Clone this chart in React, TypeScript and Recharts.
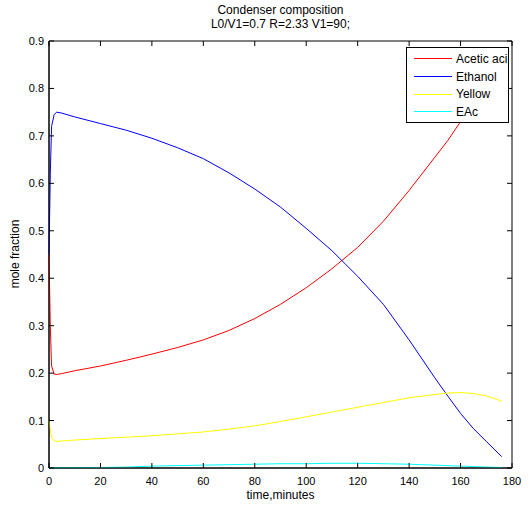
import React from 'react';
import { LineChart, Line, XAxis, YAxis, Legend, ReferenceArea } from 'recharts';

// time samples (minutes) and mole fractions
const TIME = [0, 0.5, 1, 2, 3, 5, 10, 20, 30, 40, 50, 60, 70, 80, 90, 100, 110, 120, 130, 140, 150, 155, 160, 165, 170, 176];
const ACETIC = [0.45, 0.3, 0.215, 0.198, 0.197, 0.199, 0.205, 0.215, 0.227, 0.24, 0.254, 0.27, 0.29, 0.315, 0.345, 0.38, 0.42, 0.465, 0.52, 0.585, 0.655, 0.69, 0.73, 0.77, 0.81, 0.86];
const ETHANOL = [0.45, 0.62, 0.72, 0.745, 0.75, 0.748, 0.74, 0.726, 0.712, 0.695, 0.675, 0.652, 0.622, 0.588, 0.55, 0.505, 0.458, 0.404, 0.345, 0.27, 0.19, 0.152, 0.115, 0.083, 0.056, 0.024];
const YELLOW = [0.1, 0.08, 0.065, 0.057, 0.056, 0.057, 0.059, 0.062, 0.065, 0.068, 0.072, 0.076, 0.082, 0.089, 0.098, 0.108, 0.118, 0.128, 0.138, 0.148, 0.155, 0.158, 0.159, 0.157, 0.152, 0.141];
const EAC = [0.0005, 0.0005, 0.0005, 0.0005, 0.0005, 0.0006, 0.0008, 0.001, 0.002, 0.004, 0.005, 0.006, 0.007, 0.008, 0.009, 0.009, 0.01, 0.01, 0.009, 0.008, 0.006, 0.005, 0.004, 0.003, 0.002, 0.001];

const SERIES_NAMES = ['Acetic aci', 'Ethanol', 'Yellow', 'EAc'];
const X_TICKS = [0, 20, 40, 60, 80, 100, 120, 140, 160, 180];
const Y_TICKS = [0, 0.1, 0.2, 0.3, 0.4, 0.5, 0.6, 0.7, 0.8, 0.9];

const data = TIME.map((t, i) => ({
    t,
    acetic: ACETIC[i],
    ethanol: ETHANOL[i],
    yellow: YELLOW[i],
    eac: EAC[i],
}));

const W = 532;
const H = 507;
const MARGIN = { top: 41, right: 20, bottom: 38, left: 48 };
const PLOT_TOP = MARGIN.top;
const PLOT_RIGHT = W - MARGIN.right;
const FONT = '"Liberation Sans", Arial, sans-serif';

const XTick = (props: any) => {
    const { x, y, payload } = props;
    return (
        <g>
            <line x1={x} y1={y} x2={x} y2={y - 5} stroke="#000" />
            <line x1={x} y1={PLOT_TOP} x2={x} y2={PLOT_TOP + 5} stroke="#000" />
            <text x={x} y={y + 17} textAnchor="middle" fontSize={11} fontFamily={FONT} fill="#000">
                {payload.value}
            </text>
        </g>
    );
};

const YTick = (props: any) => {
    const { x, y, payload } = props;
    return (
        <g>
            <line x1={x} y1={y} x2={x + 5} y2={y} stroke="#000" />
            <line x1={PLOT_RIGHT} y1={y} x2={PLOT_RIGHT - 5} y2={y} stroke="#000" />
            <text x={x - 5} y={y + 4} textAnchor="end" fontSize={11} fontFamily={FONT} fill="#000">
                {payload.value}
            </text>
        </g>
    );
};

const LegendBox = (props: any) => {
    const items = [...(props.payload || [])].sort(
        (a: any, b: any) => SERIES_NAMES.indexOf(a.value) - SERIES_NAMES.indexOf(b.value)
    );
    return (
        <div style={{ width: 101, height: 72, border: '1px solid #000', background: '#fff', fontFamily: FONT, fontSize: 12, paddingTop: 2 }}>
            {items.map((entry: any) => (
                <div key={entry.value} style={{ display: 'flex', alignItems: 'center', height: 17.7 }}>
                    <div style={{ width: 38, height: 0, borderTop: `1px solid ${entry.color}`, marginLeft: 7, marginRight: 4 }} />
                    <span>{entry.value}</span>
                </div>
            ))}
        </div>
    );
};

const App: React.FC = () => {
    return (
        <div style={{ position: 'absolute', left: 0, top: 0, width: W, height: H, background: '#fff', fontFamily: FONT }}>
            <div style={{ position: 'absolute', left: 49, width: PLOT_RIGHT - 49, top: 3, textAlign: 'center', fontSize: 12, lineHeight: '14px', color: '#000' }}>
                Condenser composition<br />L0/V1=0.7 R=2.33 V1=90;
            </div>
            <div style={{ position: 'absolute', left: 49, width: PLOT_RIGHT - 49, top: 488, textAlign: 'center', fontSize: 12, color: '#000' }}>
                time,minutes
            </div>
            <div style={{ position: 'absolute', left: 15, top: 254, transform: 'translate(-50%, -50%) rotate(-90deg)', fontSize: 12, whiteSpace: 'nowrap', color: '#000' }}>
                mole fraction
            </div>
            <LineChart width={W} height={H} data={data} margin={MARGIN}>
                <ReferenceArea x1={0} x2={180} y1={0} y2={0.9} fill="none" stroke="#000" strokeWidth={1} ifOverflow="extendDomain" />
                <XAxis
                    dataKey="t"
                    type="number"
                    domain={[0, 180]}
                    ticks={X_TICKS}
                    height={1}
                    tickSize={0}
                    tickMargin={0}
                    tickLine={false}
                    axisLine={{ stroke: '#000' }}
                    tick={<XTick />}
                    interval={0}
                />
                <YAxis
                    type="number"
                    domain={[0, 0.9]}
                    ticks={Y_TICKS}
                    width={1}
                    tickSize={0}
                    tickMargin={0}
                    tickLine={false}
                    axisLine={{ stroke: '#000' }}
                    tick={<YTick />}
                    interval={0}
                />
                <Line type="linear" dataKey="acetic" name="Acetic aci" stroke="#ff0000" strokeWidth={1} dot={false} isAnimationActive={false} />
                <Line type="linear" dataKey="ethanol" name="Ethanol" stroke="#0000ff" strokeWidth={1} dot={false} isAnimationActive={false} />
                <Line type="linear" dataKey="yellow" name="Yellow" stroke="#ffff00" strokeWidth={1} dot={false} isAnimationActive={false} />
                <Line type="linear" dataKey="eac" name="EAc" stroke="#00ffff" strokeWidth={1} dot={false} isAnimationActive={false} />
                <Legend
                    layout="vertical"
                    align="center"
                    verticalAlign="middle"
                    content={<LegendBox />}
                    wrapperStyle={{ left: 406, top: 47, width: 103, height: 74 }}
                />
            </LineChart>
        </div>
    );
};

export default App;
